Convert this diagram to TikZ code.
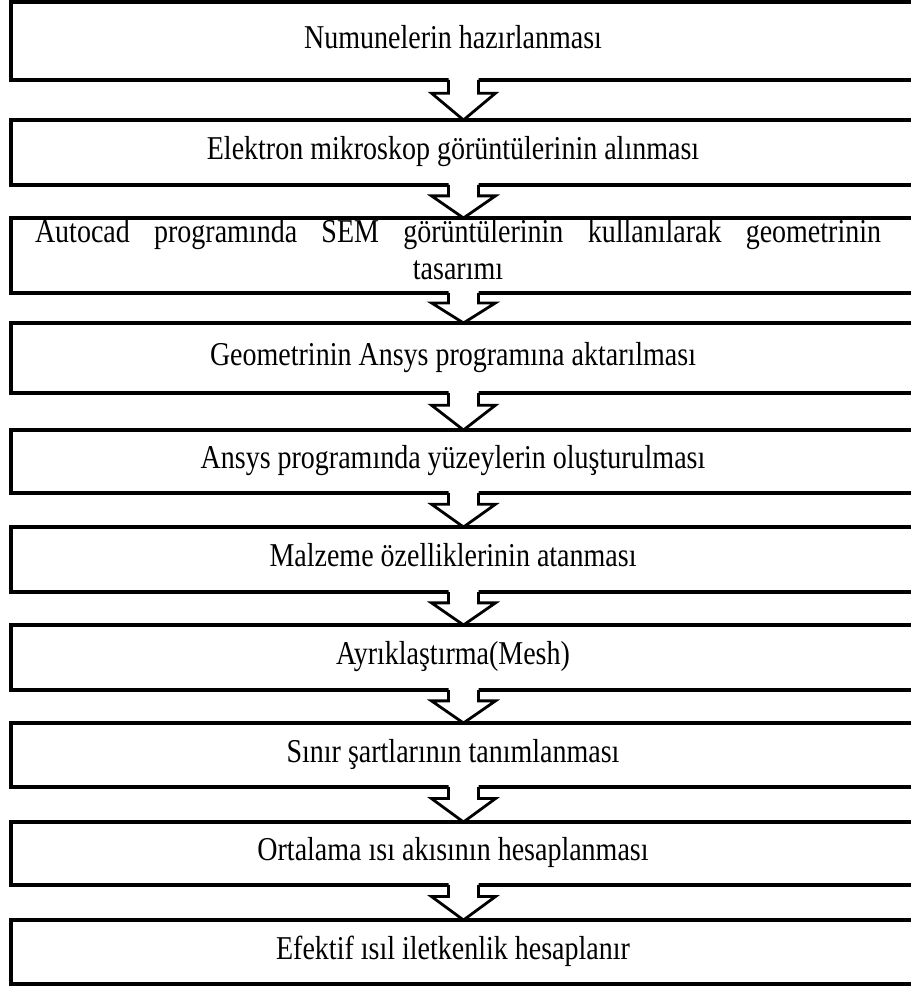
\documentclass[tikz,border=0pt]{standalone}
\usepackage{fontspec}
\setmainfont{Liberation Serif}
\usetikzlibrary{calc}
\tikzset{
  stepbox/.style={draw=black, line width=3.6pt, rectangle, minimum width=905pt, inner sep=0pt, outer sep=0pt},
  steplabel/.style={inner sep=0pt, font=\fontsize{28}{31}\selectfont, align=center},
  blockline/.style={draw=black, line width=2.8pt, line join=miter},
}
\newcommand\lbl[1]{\scalebox{1}[1.19]{\begin{tabular}{@{}c@{}}#1\end{tabular}}}
\newcommand\blockarrow[2]{%
  \path[fill=white] let \p1=(#1.south), \p2=(#2.north), \n1={0.33*(\y1-\y2)} in
    (\x1-15pt,\y1+2pt) -- (\x1-15pt,\y1-\n1) -- (\x1-32pt,\y1-\n1) -- (\x1,\y2) --
    (\x1+32pt,\y1-\n1) -- (\x1+15pt,\y1-\n1) -- (\x1+15pt,\y1+2pt) -- cycle;
  \draw[blockline] let \p1=(#1.south), \p2=(#2.north), \n1={0.33*(\y1-\y2)} in
    (\x1-15pt,\y1) -- (\x1-15pt,\y1-\n1) -- (\x1-32pt,\y1-\n1) -- (\x1,\y2) --
    (\x1+32pt,\y1-\n1) -- (\x1+15pt,\y1-\n1) -- (\x1+15pt,\y1);
}
\begin{document}
\begin{tikzpicture}[x=1pt,y=-1pt]
\useasboundingbox[fill=white] (0,0) rectangle (910,987);
% boxes
\node[stepbox, minimum height=78pt] (b1) at (463.5,41) {};
\node[stepbox, minimum height=65pt] (b2) at (463.5,152.5) {};
\node[stepbox, minimum height=75pt] (b3) at (463.5,255.5) {};
\node[stepbox, minimum height=70pt] (b4) at (463.5,358) {};
\node[stepbox, minimum height=63pt] (b5) at (463.5,461.5) {};
\node[stepbox, minimum height=65pt] (b6) at (463.5,559.5) {};
\node[stepbox, minimum height=65pt] (b7) at (463.5,657.5) {};
\node[stepbox, minimum height=64pt] (b8) at (463.5,755) {};
\node[stepbox, minimum height=63pt] (b9) at (463.5,853.5) {};
\node[stepbox, minimum height=64pt] (b10) at (463.5,952) {};
% labels
\node[steplabel] (l1) at (453,41) {\lbl{Numunelerin hazırlanması}};
\node[steplabel] (l2) at (453,152.5) {\lbl{Elektron mikroskop görüntülerinin alınması}};
\node[steplabel] (l3) at (458,254) {\lbl{\makebox[846pt][s]{Autocad programında SEM görüntülerinin kullanılarak geometrinin}\\tasarımı}};
\node[steplabel] (l4) at (453,358) {\lbl{Geometrinin Ansys programına aktarılması}};
\node[steplabel] (l5) at (453,461.5) {\lbl{Ansys programında yüzeylerin oluşturulması}};
\node[steplabel] (l6) at (453,559.5) {\lbl{Malzeme özelliklerinin atanması}};
\node[steplabel] (l7) at (453,657.5) {\lbl{Ayrıklaştırma(Mesh)}};
\node[steplabel] (l8) at (453,755) {\lbl{Sınır şartlarının tanımlanması}};
\node[steplabel] (l9) at (453,853.5) {\lbl{Ortalama ısı akısının hesaplanması}};
\node[steplabel] (l10) at (453,952) {\lbl{Efektif ısıl iletkenlik hesaplanır}};
% arrows
\blockarrow{b1}{b2}
\blockarrow{b2}{b3}
\blockarrow{b3}{b4}
\blockarrow{b4}{b5}
\blockarrow{b5}{b6}
\blockarrow{b6}{b7}
\blockarrow{b7}{b8}
\blockarrow{b8}{b9}
\blockarrow{b9}{b10}
\end{tikzpicture}
\end{document}
